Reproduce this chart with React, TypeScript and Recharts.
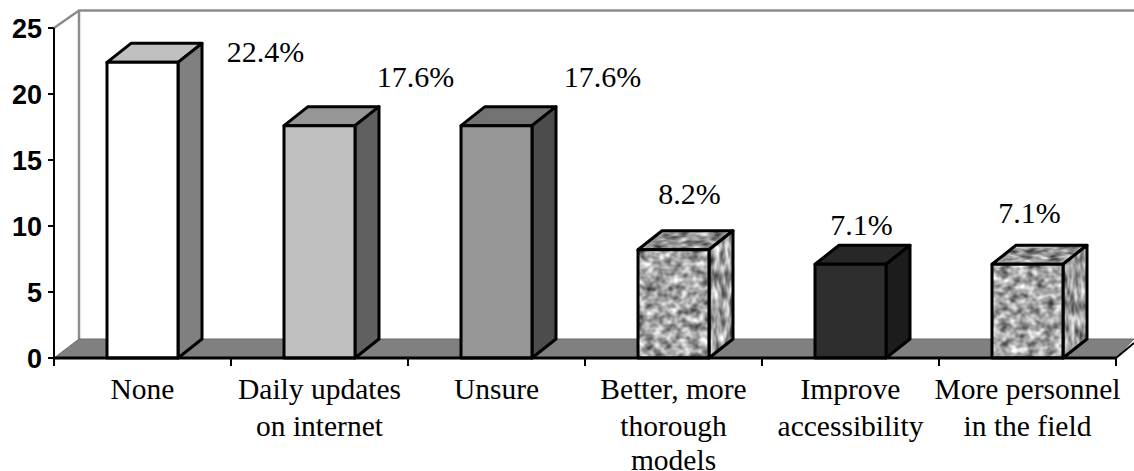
import { Bar, BarChart, LabelList, XAxis, YAxis, usePlotArea } from "recharts";

const categories = [
  "None",
  "Daily updates\non internet",
  "Unsure",
  "Better, more\nthorough\nmodels",
  "Improve\naccessibility",
  "More personnel\nin the field",
];
const percentages = [22.4, 17.6, 17.6, 8.2, 7.1, 7.1];
const yTicks = [0, 5, 10, 15, 20, 25];

// front, top, side; "granite" uses the noise filter
const barShades = [
  ["#ffffff", "#c0c0c0", "#808080"],
  ["#c0c0c0", "#969696", "#606060"],
  ["#969696", "#737373", "#4c4c4c"],
  ["granite", "granite", "granite"],
  ["#2e2e2e", "#272727", "#1c1c1c"],
  ["granite", "granite", "granite"],
];
// the value labels float at odd spots in the original
const labelOffsets = [
  [123, -7],
  [96, -46],
  [106, -46],
  [16, -53],
  [11, -36],
  [2, -48],
];
const lineBaselines = [33, 70, 104];

const data = categories.map((name, i) => ({ name, value: percentages[i] }));

const DEPTH_X = 24;
const DEPTH_Y = 19;
const WALL_RIGHT = 1134;
const SERIF = "'Liberation Serif', serif";

function Frame() {
  const plot = usePlotArea();
  if (!plot) return null;
  const left = plot.x;
  const top = plot.y;
  const bottom = plot.y + plot.height;
  const right = plot.x + plot.width;
  return (
    <g>
      <polyline
        points={`${left},${top} ${left + DEPTH_X + 1},${top - DEPTH_Y + 1.5} ${WALL_RIGHT},${top - DEPTH_Y + 1.5}`}
        fill="none"
        stroke="#8c8c8c"
        strokeWidth={2.5}
      />
      <line
        x1={left + DEPTH_X + 1}
        y1={top - DEPTH_Y + 1.5}
        x2={left + DEPTH_X + 1}
        y2={bottom - DEPTH_Y}
        stroke="#8c8c8c"
        strokeWidth={2.5}
      />
      <polygon
        points={`${left},${bottom} ${left + DEPTH_X + 1},${bottom - DEPTH_Y} ${WALL_RIGHT},${bottom - DEPTH_Y} ${right},${bottom}`}
        fill="#808080"
        stroke="#6a6a6a"
        strokeWidth={1}
      />
      <line x1={right} y1={bottom} x2={right + 18} y2={bottom - 15} stroke="#000" strokeWidth={2} />
    </g>
  );
}

function Face({ points, fill, filter }: { points: string; fill: string; filter: string }) {
  const granite = fill === "granite";
  return (
    <>
      <polygon
        points={points}
        fill={granite ? "#999" : fill}
        filter={granite ? `url(#${filter})` : undefined}
      />
      <polygon points={points} fill="none" stroke="#000" strokeWidth={3} strokeLinejoin="round" />
    </>
  );
}

function BoxBar(props: any) {
  const { x, y, width, height, index } = props;
  const [front, topFace, side] = barShades[index];
  const r = x + width;
  const b = y + height;
  return (
    <g>
      <Face
        points={`${x},${y} ${x + DEPTH_X},${y - DEPTH_Y} ${r + DEPTH_X},${y - DEPTH_Y} ${r},${y}`}
        fill={topFace}
        filter="graniteTop"
      />
      <Face
        points={`${r},${y} ${r + DEPTH_X},${y - DEPTH_Y} ${r + DEPTH_X},${b - DEPTH_Y} ${r},${b}`}
        fill={side}
        filter="graniteSide"
      />
      <Face points={`${x},${y} ${r},${y} ${r},${b} ${x},${b}`} fill={front} filter="graniteFront" />
    </g>
  );
}

function ValueLabel(props: any) {
  const { x, y, width, value, index } = props;
  const [dx, dy] = labelOffsets[index];
  return (
    <text
      x={x + width / 2 + dx}
      y={y + dy}
      textAnchor="middle"
      dominantBaseline="middle"
      fontFamily={SERIF}
      fontSize={30}
      fill="#000"
    >
      {`${value.toFixed(1)}%`}
    </text>
  );
}

function CategoryTick(props: any) {
  const { x, y, payload, index } = props;
  const band = 177;
  const lines = String(payload.value).split("\n");
  const tickMark = (tx: number) => (
    <line x1={tx} y1={y - 8} x2={tx} y2={y} stroke="#000" strokeWidth={2} />
  );
  return (
    <g>
      {tickMark(x - band / 2)}
      {index === categories.length - 1 && tickMark(x + band / 2)}
      {lines.map((line, i) => (
        <text
          key={line}
          x={x}
          y={y + lineBaselines[i]}
          textAnchor="middle"
          fontFamily={SERIF}
          fontSize={29.5}
          fill="#000"
        >
          {line}
        </text>
      ))}
    </g>
  );
}

function grainFilter(id: string, freq: string, seed: number, gain: number, offset: number) {
  return (
    <filter id={id} x="0" y="0" width="1" height="1" colorInterpolationFilters="sRGB">
      <feTurbulence type="fractalNoise" baseFrequency={freq} numOctaves={2} seed={seed} />
      <feColorMatrix
        values={`${gain} 0 0 0 ${offset} ${gain} 0 0 0 ${offset} ${gain} 0 0 0 ${offset} 0 0 0 0 1`}
      />
      <feComposite in2="SourceAlpha" operator="in" />
    </filter>
  );
}

export default function App() {
  return (
    <div style={{ position: "absolute", left: 0, top: 0 }}>
      <BarChart
        width={1134}
        height={471}
        data={data}
        margin={{ top: 28, right: 18, bottom: 0, left: 0 }}
      >
        <defs>
          {grainFilter("graniteFront", "0.11 0.13", 4, 1.1, 0.1)}
          {grainFilter("graniteTop", "0.08 0.22", 9, 1.1, 0.02)}
          {grainFilter("graniteSide", "0.2 0.07", 12, 1.1, 0.08)}
        </defs>
        <Frame />
        <XAxis
          dataKey="name"
          height={113}
          interval={0}
          axisLine={{ stroke: "#000", strokeWidth: 3 }}
          tickLine={false}
          tick={<CategoryTick />}
        />
        <YAxis
          width={54}
          domain={[0, 25]}
          ticks={yTicks}
          axisLine={{ stroke: "#000", strokeWidth: 2 }}
          tickLine={{ stroke: "#000", strokeWidth: 2 }}
          tickSize={6}
          tickMargin={6}
          tick={{
            fontFamily: "'Liberation Sans', sans-serif",
            fontWeight: 700,
            fontSize: 27,
            fill: "#000",
          }}
        />
        <Bar dataKey="value" barSize={71} shape={<BoxBar />} isAnimationActive={false}>
          <LabelList dataKey="value" content={<ValueLabel />} />
        </Bar>
      </BarChart>
    </div>
  );
}
